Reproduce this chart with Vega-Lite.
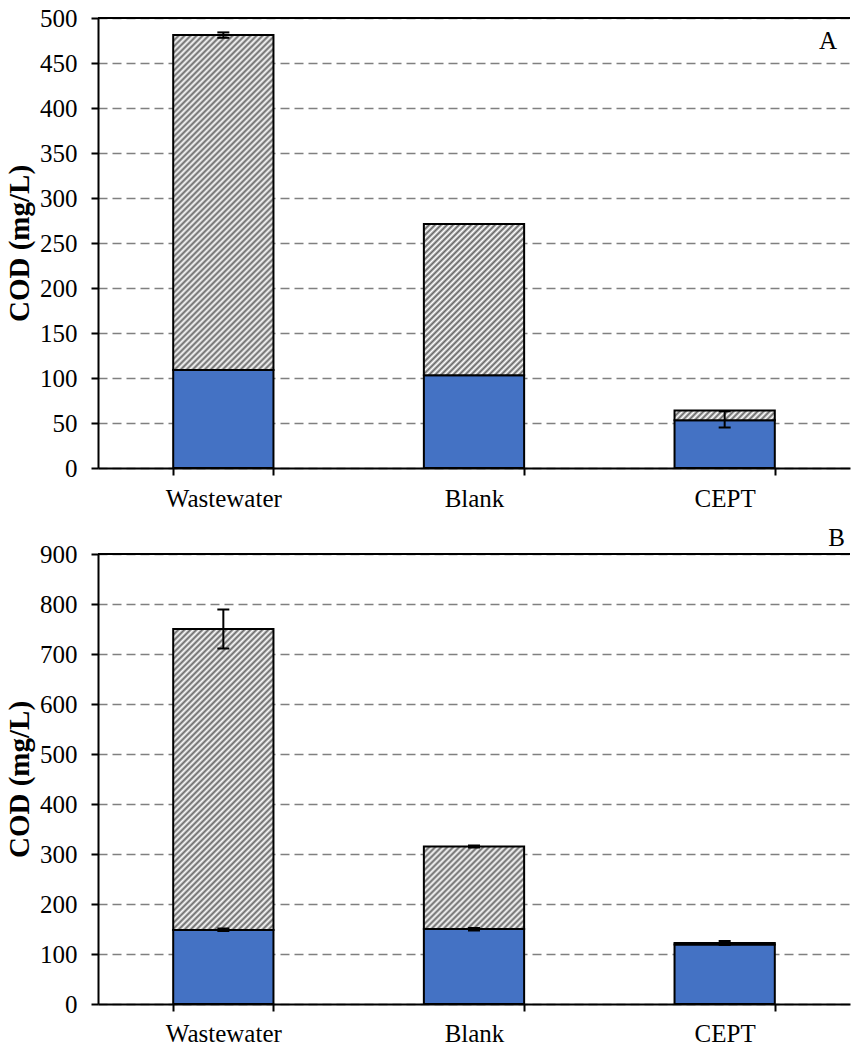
{
  "$schema": "https://vega.github.io/schema/vega-lite/v6.json",
  "padding": {"left": 5, "top": 6, "right": 0, "bottom": 0},
  "spacing": 14,
  "datasets": {
    "bars": [
      {"panel": "A", "category": "Wastewater", "soluble": 109, "total": 481},
      {"panel": "A", "category": "Blank", "soluble": 103, "total": 271},
      {"panel": "A", "category": "CEPT", "soluble": 53, "total": 64},
      {"panel": "B", "category": "Wastewater", "soluble": 148, "total": 750},
      {"panel": "B", "category": "Blank", "soluble": 150, "total": 315},
      {"panel": "B", "category": "CEPT", "soluble": 119, "total": 122}
    ],
    "errors": [
      {"panel": "A", "category": "Wastewater", "lo": 478, "hi": 484},
      {"panel": "A", "category": "CEPT", "lo": 45, "hi": 63},
      {"panel": "B", "category": "Wastewater", "lo": 711, "hi": 789},
      {"panel": "B", "category": "Wastewater", "lo": 146, "hi": 151},
      {"panel": "B", "category": "Blank", "lo": 147, "hi": 152},
      {"panel": "B", "category": "Blank", "lo": 313, "hi": 317},
      {"panel": "B", "category": "CEPT", "lo": 118, "hi": 126}
    ]
  },
  "vconcat": [
    {
      "width": 752,
      "height": 450,
      "layer": [
        {
          "data": {"name": "bars"},
          "transform": [{"filter": "datum.panel == 'A'"}],
          "mark": {"type": "bar", "fill": "#4472c4", "stroke": "#000", "strokeWidth": 2},
          "encoding": {
            "x": {"field": "category", "type": "nominal", "title": null, "sort": ["Wastewater", "Blank", "CEPT"], "scale": {"paddingInner": 0.6, "paddingOuter": 0.3}, "axis": {"labelAngle": 0, "tickBand": "extent", "labelPadding": 11}},
            "y": {"field": "soluble", "type": "quantitative", "title": "COD (mg/L)", "scale": {"domain": [0, 500], "nice": false}, "axis": {"values": [0, 50, 100, 150, 200, 250, 300, 350, 400, 450, 500]}}
          }
        },
        {
          "data": {"name": "bars"},
          "transform": [{"filter": "datum.panel == 'A'"}],
          "mark": {"type": "bar", "stroke": "#000", "strokeWidth": 2},
          "encoding": {
            "x": {"field": "category", "type": "nominal", "title": null, "sort": ["Wastewater", "Blank", "CEPT"]},
            "y": {"field": "soluble", "type": "quantitative", "title": "COD (mg/L)"},
            "y2": {"field": "total"},
            "fill": {
              "condition": [
                {"test": "datum.category == 'Wastewater'", "value": {"gradient": "linear", "x1": 0, "y1": 0, "x2": 0.3941, "y2": 1.3156, "stops": [
                  {"offset":0,"color":"#666"},{"offset":0.00625,"color":"#fff"},{"offset":0.0125,"color":"#666"},{"offset":0.01875,"color":"#fff"},{"offset":0.025,"color":"#666"},{"offset":0.03125,"color":"#fff"},{"offset":0.0375,"color":"#666"},{"offset":0.04375,"color":"#fff"},
                  {"offset":0.05,"color":"#666"},{"offset":0.05625,"color":"#fff"},{"offset":0.0625,"color":"#666"},{"offset":0.06875,"color":"#fff"},{"offset":0.075,"color":"#666"},{"offset":0.08125,"color":"#fff"},{"offset":0.0875,"color":"#666"},{"offset":0.09375,"color":"#fff"},
                  {"offset":0.1,"color":"#666"},{"offset":0.10625,"color":"#fff"},{"offset":0.1125,"color":"#666"},{"offset":0.11875,"color":"#fff"},{"offset":0.125,"color":"#666"},{"offset":0.13125,"color":"#fff"},{"offset":0.1375,"color":"#666"},{"offset":0.14375,"color":"#fff"},
                  {"offset":0.15,"color":"#666"},{"offset":0.15625,"color":"#fff"},{"offset":0.1625,"color":"#666"},{"offset":0.16875,"color":"#fff"},{"offset":0.175,"color":"#666"},{"offset":0.18125,"color":"#fff"},{"offset":0.1875,"color":"#666"},{"offset":0.19375,"color":"#fff"},
                  {"offset":0.2,"color":"#666"},{"offset":0.20625,"color":"#fff"},{"offset":0.2125,"color":"#666"},{"offset":0.21875,"color":"#fff"},{"offset":0.225,"color":"#666"},{"offset":0.23125,"color":"#fff"},{"offset":0.2375,"color":"#666"},{"offset":0.24375,"color":"#fff"},
                  {"offset":0.25,"color":"#666"},{"offset":0.25625,"color":"#fff"},{"offset":0.2625,"color":"#666"},{"offset":0.26875,"color":"#fff"},{"offset":0.275,"color":"#666"},{"offset":0.28125,"color":"#fff"},{"offset":0.2875,"color":"#666"},{"offset":0.29375,"color":"#fff"},
                  {"offset":0.3,"color":"#666"},{"offset":0.30625,"color":"#fff"},{"offset":0.3125,"color":"#666"},{"offset":0.31875,"color":"#fff"},{"offset":0.325,"color":"#666"},{"offset":0.33125,"color":"#fff"},{"offset":0.3375,"color":"#666"},{"offset":0.34375,"color":"#fff"},
                  {"offset":0.35,"color":"#666"},{"offset":0.35625,"color":"#fff"},{"offset":0.3625,"color":"#666"},{"offset":0.36875,"color":"#fff"},{"offset":0.375,"color":"#666"},{"offset":0.38125,"color":"#fff"},{"offset":0.3875,"color":"#666"},{"offset":0.39375,"color":"#fff"},
                  {"offset":0.4,"color":"#666"},{"offset":0.40625,"color":"#fff"},{"offset":0.4125,"color":"#666"},{"offset":0.41875,"color":"#fff"},{"offset":0.425,"color":"#666"},{"offset":0.43125,"color":"#fff"},{"offset":0.4375,"color":"#666"},{"offset":0.44375,"color":"#fff"},
                  {"offset":0.45,"color":"#666"},{"offset":0.45625,"color":"#fff"},{"offset":0.4625,"color":"#666"},{"offset":0.46875,"color":"#fff"},{"offset":0.475,"color":"#666"},{"offset":0.48125,"color":"#fff"},{"offset":0.4875,"color":"#666"},{"offset":0.49375,"color":"#fff"},
                  {"offset":0.5,"color":"#666"},{"offset":0.50625,"color":"#fff"},{"offset":0.5125,"color":"#666"},{"offset":0.51875,"color":"#fff"},{"offset":0.525,"color":"#666"},{"offset":0.53125,"color":"#fff"},{"offset":0.5375,"color":"#666"},{"offset":0.54375,"color":"#fff"},
                  {"offset":0.55,"color":"#666"},{"offset":0.55625,"color":"#fff"},{"offset":0.5625,"color":"#666"},{"offset":0.56875,"color":"#fff"},{"offset":0.575,"color":"#666"},{"offset":0.58125,"color":"#fff"},{"offset":0.5875,"color":"#666"},{"offset":0.59375,"color":"#fff"},
                  {"offset":0.6,"color":"#666"},{"offset":0.60625,"color":"#fff"},{"offset":0.6125,"color":"#666"},{"offset":0.61875,"color":"#fff"},{"offset":0.625,"color":"#666"},{"offset":0.63125,"color":"#fff"},{"offset":0.6375,"color":"#666"},{"offset":0.64375,"color":"#fff"},
                  {"offset":0.65,"color":"#666"},{"offset":0.65625,"color":"#fff"},{"offset":0.6625,"color":"#666"},{"offset":0.66875,"color":"#fff"},{"offset":0.675,"color":"#666"},{"offset":0.68125,"color":"#fff"},{"offset":0.6875,"color":"#666"},{"offset":0.69375,"color":"#fff"},
                  {"offset":0.7,"color":"#666"},{"offset":0.70625,"color":"#fff"},{"offset":0.7125,"color":"#666"},{"offset":0.71875,"color":"#fff"},{"offset":0.725,"color":"#666"},{"offset":0.73125,"color":"#fff"},{"offset":0.7375,"color":"#666"},{"offset":0.74375,"color":"#fff"},
                  {"offset":0.75,"color":"#666"},{"offset":0.75625,"color":"#fff"},{"offset":0.7625,"color":"#666"},{"offset":0.76875,"color":"#fff"},{"offset":0.775,"color":"#666"},{"offset":0.78125,"color":"#fff"},{"offset":0.7875,"color":"#666"},{"offset":0.79375,"color":"#fff"},
                  {"offset":0.8,"color":"#666"},{"offset":0.80625,"color":"#fff"},{"offset":0.8125,"color":"#666"},{"offset":0.81875,"color":"#fff"},{"offset":0.825,"color":"#666"},{"offset":0.83125,"color":"#fff"},{"offset":0.8375,"color":"#666"},{"offset":0.84375,"color":"#fff"},
                  {"offset":0.85,"color":"#666"},{"offset":0.85625,"color":"#fff"},{"offset":0.8625,"color":"#666"},{"offset":0.86875,"color":"#fff"},{"offset":0.875,"color":"#666"},{"offset":0.88125,"color":"#fff"},{"offset":0.8875,"color":"#666"},{"offset":0.89375,"color":"#fff"},
                  {"offset":0.9,"color":"#666"},{"offset":0.90625,"color":"#fff"},{"offset":0.9125,"color":"#666"}
                ]}},
                {"test": "datum.category == 'Blank'", "value": {"gradient": "linear", "x1": 0, "y1": 0, "x2": 0.9137, "y2": 1.3778, "stops": [
                  {"offset":0,"color":"#666"},{"offset":0.01,"color":"#fff"},{"offset":0.02,"color":"#666"},{"offset":0.03,"color":"#fff"},{"offset":0.04,"color":"#666"},{"offset":0.05,"color":"#fff"},{"offset":0.06,"color":"#666"},{"offset":0.07,"color":"#fff"},{"offset":0.08,"color":"#666"},{"offset":0.09,"color":"#fff"},
                  {"offset":0.1,"color":"#666"},{"offset":0.11,"color":"#fff"},{"offset":0.12,"color":"#666"},{"offset":0.13,"color":"#fff"},{"offset":0.14,"color":"#666"},{"offset":0.15,"color":"#fff"},{"offset":0.16,"color":"#666"},{"offset":0.17,"color":"#fff"},{"offset":0.18,"color":"#666"},{"offset":0.19,"color":"#fff"},
                  {"offset":0.2,"color":"#666"},{"offset":0.21,"color":"#fff"},{"offset":0.22,"color":"#666"},{"offset":0.23,"color":"#fff"},{"offset":0.24,"color":"#666"},{"offset":0.25,"color":"#fff"},{"offset":0.26,"color":"#666"},{"offset":0.27,"color":"#fff"},{"offset":0.28,"color":"#666"},{"offset":0.29,"color":"#fff"},
                  {"offset":0.3,"color":"#666"},{"offset":0.31,"color":"#fff"},{"offset":0.32,"color":"#666"},{"offset":0.33,"color":"#fff"},{"offset":0.34,"color":"#666"},{"offset":0.35,"color":"#fff"},{"offset":0.36,"color":"#666"},{"offset":0.37,"color":"#fff"},{"offset":0.38,"color":"#666"},{"offset":0.39,"color":"#fff"},
                  {"offset":0.4,"color":"#666"},{"offset":0.41,"color":"#fff"},{"offset":0.42,"color":"#666"},{"offset":0.43,"color":"#fff"},{"offset":0.44,"color":"#666"},{"offset":0.45,"color":"#fff"},{"offset":0.46,"color":"#666"},{"offset":0.47,"color":"#fff"},{"offset":0.48,"color":"#666"},{"offset":0.49,"color":"#fff"},
                  {"offset":0.5,"color":"#666"},{"offset":0.51,"color":"#fff"},{"offset":0.52,"color":"#666"},{"offset":0.53,"color":"#fff"},{"offset":0.54,"color":"#666"},{"offset":0.55,"color":"#fff"},{"offset":0.56,"color":"#666"},{"offset":0.57,"color":"#fff"},{"offset":0.58,"color":"#666"},{"offset":0.59,"color":"#fff"},
                  {"offset":0.6,"color":"#666"},{"offset":0.61,"color":"#fff"},{"offset":0.62,"color":"#666"},{"offset":0.63,"color":"#fff"},{"offset":0.64,"color":"#666"},{"offset":0.65,"color":"#fff"},{"offset":0.66,"color":"#666"},{"offset":0.67,"color":"#fff"},{"offset":0.68,"color":"#666"},{"offset":0.69,"color":"#fff"},
                  {"offset":0.7,"color":"#666"},{"offset":0.71,"color":"#fff"},{"offset":0.72,"color":"#666"},{"offset":0.73,"color":"#fff"},{"offset":0.74,"color":"#666"},{"offset":0.75,"color":"#fff"},{"offset":0.76,"color":"#666"},{"offset":0.77,"color":"#fff"},{"offset":0.78,"color":"#666"},{"offset":0.79,"color":"#fff"},
                  {"offset":0.8,"color":"#666"},{"offset":0.81,"color":"#fff"},{"offset":0.82,"color":"#666"},{"offset":0.83,"color":"#fff"},{"offset":0.84,"color":"#666"}
                ]}},
                {"test": "datum.category == 'CEPT'", "value": {"gradient": "linear", "x1": 0, "y1": 0, "x2": 1.1845, "y2": 0.117, "stops": [
                  {"offset":0,"color":"#666"},{"offset":0.025,"color":"#fff"},{"offset":0.05,"color":"#666"},{"offset":0.075,"color":"#fff"},
                  {"offset":0.1,"color":"#666"},{"offset":0.125,"color":"#fff"},{"offset":0.15,"color":"#666"},{"offset":0.175,"color":"#fff"},
                  {"offset":0.2,"color":"#666"},{"offset":0.225,"color":"#fff"},{"offset":0.25,"color":"#666"},{"offset":0.275,"color":"#fff"},
                  {"offset":0.3,"color":"#666"},{"offset":0.325,"color":"#fff"},{"offset":0.35,"color":"#666"},{"offset":0.375,"color":"#fff"},
                  {"offset":0.4,"color":"#666"},{"offset":0.425,"color":"#fff"},{"offset":0.45,"color":"#666"},{"offset":0.475,"color":"#fff"},
                  {"offset":0.5,"color":"#666"},{"offset":0.525,"color":"#fff"},{"offset":0.55,"color":"#666"},{"offset":0.575,"color":"#fff"},
                  {"offset":0.6,"color":"#666"},{"offset":0.625,"color":"#fff"},{"offset":0.65,"color":"#666"},{"offset":0.675,"color":"#fff"},
                  {"offset":0.7,"color":"#666"},{"offset":0.725,"color":"#fff"},{"offset":0.75,"color":"#666"},{"offset":0.775,"color":"#fff"},
                  {"offset":0.8,"color":"#666"},{"offset":0.825,"color":"#fff"},{"offset":0.85,"color":"#666"},{"offset":0.875,"color":"#fff"},
                  {"offset":0.9,"color":"#666"},{"offset":0.925,"color":"#fff"},{"offset":0.95,"color":"#666"}
                ]}}
              ],
              "value": "#666"
            }
          }
        },
        {
          "data": {"values": [{}]},
          "mark": {"type": "rule", "color": "#000", "strokeWidth": 2},
          "encoding": {"y": {"datum": 500, "type": "quantitative", "title": "COD (mg/L)"}}
        },
        {
          "data": {"name": "errors"},
          "transform": [{"filter": "datum.panel == 'A'"}],
          "mark": {"type": "rule", "color": "#000", "strokeWidth": 2},
          "encoding": {
            "x": {"field": "category", "type": "nominal", "title": null, "sort": ["Wastewater", "Blank", "CEPT"]},
            "y": {"field": "lo", "type": "quantitative", "title": "COD (mg/L)"},
            "y2": {"field": "hi"}
          }
        },
        {
          "data": {"name": "errors"},
          "transform": [{"filter": "datum.panel == 'A'"}],
          "mark": {"type": "tick", "color": "#000", "size": 12, "thickness": 2, "opacity": 1},
          "encoding": {
            "x": {"field": "category", "type": "nominal", "title": null, "sort": ["Wastewater", "Blank", "CEPT"]},
            "y": {"field": "lo", "type": "quantitative", "title": "COD (mg/L)"}
          }
        },
        {
          "data": {"name": "errors"},
          "transform": [{"filter": "datum.panel == 'A'"}],
          "mark": {"type": "tick", "color": "#000", "size": 12, "thickness": 2, "opacity": 1},
          "encoding": {
            "x": {"field": "category", "type": "nominal", "title": null, "sort": ["Wastewater", "Blank", "CEPT"]},
            "y": {"field": "hi", "type": "quantitative", "title": "COD (mg/L)"}
          }
        },
        {
          "data": {"values": [{"letter": "A"}]},
          "mark": {"type": "text", "align": "right", "baseline": "middle", "dx": -13, "font": "Liberation Serif", "fontSize": 25, "color": "#000"},
          "encoding": {
            "x": {"value": "width"},
            "y": {"datum": 475, "type": "quantitative", "title": "COD (mg/L)"},
            "text": {"field": "letter"}
          }
        }
      ]
    },
    {
      "width": 752,
      "height": 450,
      "layer": [
        {
          "data": {"name": "bars"},
          "transform": [{"filter": "datum.panel == 'B'"}],
          "mark": {"type": "bar", "fill": "#4472c4", "stroke": "#000", "strokeWidth": 2},
          "encoding": {
            "x": {"field": "category", "type": "nominal", "title": null, "sort": ["Wastewater", "Blank", "CEPT"], "scale": {"paddingInner": 0.6, "paddingOuter": 0.3}, "axis": {"labelAngle": 0, "tickBand": "extent", "labelPadding": 10}},
            "y": {"field": "soluble", "type": "quantitative", "title": "COD (mg/L)", "scale": {"domain": [0, 900], "nice": false}, "axis": {"values": [0, 100, 200, 300, 400, 500, 600, 700, 800, 900]}}
          }
        },
        {
          "data": {"name": "bars"},
          "transform": [{"filter": "datum.panel == 'B'"}],
          "mark": {"type": "bar", "stroke": "#000", "strokeWidth": 2},
          "encoding": {
            "x": {"field": "category", "type": "nominal", "title": null, "sort": ["Wastewater", "Blank", "CEPT"]},
            "y": {"field": "soluble", "type": "quantitative", "title": "COD (mg/L)"},
            "y2": {"field": "total"},
            "fill": {
              "condition": [
                {"test": "datum.category == 'Wastewater'", "value": {"gradient": "linear", "x1": 0, "y1": 0, "x2": 0.4783, "y2": 1.4353, "stops": [
                  {"offset":0,"color":"#666"},{"offset":0.00625,"color":"#fff"},{"offset":0.0125,"color":"#666"},{"offset":0.01875,"color":"#fff"},{"offset":0.025,"color":"#666"},{"offset":0.03125,"color":"#fff"},{"offset":0.0375,"color":"#666"},{"offset":0.04375,"color":"#fff"},
                  {"offset":0.05,"color":"#666"},{"offset":0.05625,"color":"#fff"},{"offset":0.0625,"color":"#666"},{"offset":0.06875,"color":"#fff"},{"offset":0.075,"color":"#666"},{"offset":0.08125,"color":"#fff"},{"offset":0.0875,"color":"#666"},{"offset":0.09375,"color":"#fff"},
                  {"offset":0.1,"color":"#666"},{"offset":0.10625,"color":"#fff"},{"offset":0.1125,"color":"#666"},{"offset":0.11875,"color":"#fff"},{"offset":0.125,"color":"#666"},{"offset":0.13125,"color":"#fff"},{"offset":0.1375,"color":"#666"},{"offset":0.14375,"color":"#fff"},
                  {"offset":0.15,"color":"#666"},{"offset":0.15625,"color":"#fff"},{"offset":0.1625,"color":"#666"},{"offset":0.16875,"color":"#fff"},{"offset":0.175,"color":"#666"},{"offset":0.18125,"color":"#fff"},{"offset":0.1875,"color":"#666"},{"offset":0.19375,"color":"#fff"},
                  {"offset":0.2,"color":"#666"},{"offset":0.20625,"color":"#fff"},{"offset":0.2125,"color":"#666"},{"offset":0.21875,"color":"#fff"},{"offset":0.225,"color":"#666"},{"offset":0.23125,"color":"#fff"},{"offset":0.2375,"color":"#666"},{"offset":0.24375,"color":"#fff"},
                  {"offset":0.25,"color":"#666"},{"offset":0.25625,"color":"#fff"},{"offset":0.2625,"color":"#666"},{"offset":0.26875,"color":"#fff"},{"offset":0.275,"color":"#666"},{"offset":0.28125,"color":"#fff"},{"offset":0.2875,"color":"#666"},{"offset":0.29375,"color":"#fff"},
                  {"offset":0.3,"color":"#666"},{"offset":0.30625,"color":"#fff"},{"offset":0.3125,"color":"#666"},{"offset":0.31875,"color":"#fff"},{"offset":0.325,"color":"#666"},{"offset":0.33125,"color":"#fff"},{"offset":0.3375,"color":"#666"},{"offset":0.34375,"color":"#fff"},
                  {"offset":0.35,"color":"#666"},{"offset":0.35625,"color":"#fff"},{"offset":0.3625,"color":"#666"},{"offset":0.36875,"color":"#fff"},{"offset":0.375,"color":"#666"},{"offset":0.38125,"color":"#fff"},{"offset":0.3875,"color":"#666"},{"offset":0.39375,"color":"#fff"},
                  {"offset":0.4,"color":"#666"},{"offset":0.40625,"color":"#fff"},{"offset":0.4125,"color":"#666"},{"offset":0.41875,"color":"#fff"},{"offset":0.425,"color":"#666"},{"offset":0.43125,"color":"#fff"},{"offset":0.4375,"color":"#666"},{"offset":0.44375,"color":"#fff"},
                  {"offset":0.45,"color":"#666"},{"offset":0.45625,"color":"#fff"},{"offset":0.4625,"color":"#666"},{"offset":0.46875,"color":"#fff"},{"offset":0.475,"color":"#666"},{"offset":0.48125,"color":"#fff"},{"offset":0.4875,"color":"#666"},{"offset":0.49375,"color":"#fff"},
                  {"offset":0.5,"color":"#666"},{"offset":0.50625,"color":"#fff"},{"offset":0.5125,"color":"#666"},{"offset":0.51875,"color":"#fff"},{"offset":0.525,"color":"#666"},{"offset":0.53125,"color":"#fff"},{"offset":0.5375,"color":"#666"},{"offset":0.54375,"color":"#fff"},
                  {"offset":0.55,"color":"#666"},{"offset":0.55625,"color":"#fff"},{"offset":0.5625,"color":"#666"},{"offset":0.56875,"color":"#fff"},{"offset":0.575,"color":"#666"},{"offset":0.58125,"color":"#fff"},{"offset":0.5875,"color":"#666"},{"offset":0.59375,"color":"#fff"},
                  {"offset":0.6,"color":"#666"},{"offset":0.60625,"color":"#fff"},{"offset":0.6125,"color":"#666"},{"offset":0.61875,"color":"#fff"},{"offset":0.625,"color":"#666"},{"offset":0.63125,"color":"#fff"},{"offset":0.6375,"color":"#666"},{"offset":0.64375,"color":"#fff"},
                  {"offset":0.65,"color":"#666"},{"offset":0.65625,"color":"#fff"},{"offset":0.6625,"color":"#666"},{"offset":0.66875,"color":"#fff"},{"offset":0.675,"color":"#666"},{"offset":0.68125,"color":"#fff"},{"offset":0.6875,"color":"#666"},{"offset":0.69375,"color":"#fff"},
                  {"offset":0.7,"color":"#666"},{"offset":0.70625,"color":"#fff"},{"offset":0.7125,"color":"#666"},{"offset":0.71875,"color":"#fff"},{"offset":0.725,"color":"#666"},{"offset":0.73125,"color":"#fff"},{"offset":0.7375,"color":"#666"},{"offset":0.74375,"color":"#fff"},
                  {"offset":0.75,"color":"#666"},{"offset":0.75625,"color":"#fff"},{"offset":0.7625,"color":"#666"},{"offset":0.76875,"color":"#fff"},{"offset":0.775,"color":"#666"},{"offset":0.78125,"color":"#fff"},{"offset":0.7875,"color":"#666"},{"offset":0.79375,"color":"#fff"},
                  {"offset":0.8,"color":"#666"},{"offset":0.80625,"color":"#fff"},{"offset":0.8125,"color":"#666"},{"offset":0.81875,"color":"#fff"},{"offset":0.825,"color":"#666"},{"offset":0.83125,"color":"#fff"},{"offset":0.8375,"color":"#666"},{"offset":0.84375,"color":"#fff"},
                  {"offset":0.85,"color":"#666"}
                ]}},
                {"test": "datum.category == 'Blank'", "value": {"gradient": "linear", "x1": 0, "y1": 0, "x2": 1.4268, "y2": 1.174, "stops": [
                  {"offset":0,"color":"#666"},{"offset":0.0125,"color":"#fff"},{"offset":0.025,"color":"#666"},{"offset":0.0375,"color":"#fff"},{"offset":0.05,"color":"#666"},{"offset":0.0625,"color":"#fff"},{"offset":0.075,"color":"#666"},{"offset":0.0875,"color":"#fff"},
                  {"offset":0.1,"color":"#666"},{"offset":0.1125,"color":"#fff"},{"offset":0.125,"color":"#666"},{"offset":0.1375,"color":"#fff"},{"offset":0.15,"color":"#666"},{"offset":0.1625,"color":"#fff"},{"offset":0.175,"color":"#666"},{"offset":0.1875,"color":"#fff"},
                  {"offset":0.2,"color":"#666"},{"offset":0.2125,"color":"#fff"},{"offset":0.225,"color":"#666"},{"offset":0.2375,"color":"#fff"},{"offset":0.25,"color":"#666"},{"offset":0.2625,"color":"#fff"},{"offset":0.275,"color":"#666"},{"offset":0.2875,"color":"#fff"},
                  {"offset":0.3,"color":"#666"},{"offset":0.3125,"color":"#fff"},{"offset":0.325,"color":"#666"},{"offset":0.3375,"color":"#fff"},{"offset":0.35,"color":"#666"},{"offset":0.3625,"color":"#fff"},{"offset":0.375,"color":"#666"},{"offset":0.3875,"color":"#fff"},
                  {"offset":0.4,"color":"#666"},{"offset":0.4125,"color":"#fff"},{"offset":0.425,"color":"#666"},{"offset":0.4375,"color":"#fff"},{"offset":0.45,"color":"#666"},{"offset":0.4625,"color":"#fff"},{"offset":0.475,"color":"#666"},{"offset":0.4875,"color":"#fff"},
                  {"offset":0.5,"color":"#666"},{"offset":0.5125,"color":"#fff"},{"offset":0.525,"color":"#666"},{"offset":0.5375,"color":"#fff"},{"offset":0.55,"color":"#666"},{"offset":0.5625,"color":"#fff"},{"offset":0.575,"color":"#666"},{"offset":0.5875,"color":"#fff"},
                  {"offset":0.6,"color":"#666"},{"offset":0.6125,"color":"#fff"},{"offset":0.625,"color":"#666"},{"offset":0.6375,"color":"#fff"},{"offset":0.65,"color":"#666"},{"offset":0.6625,"color":"#fff"},{"offset":0.675,"color":"#666"},{"offset":0.6875,"color":"#fff"},
                  {"offset":0.7,"color":"#666"},{"offset":0.7125,"color":"#fff"},{"offset":0.725,"color":"#666"},{"offset":0.7375,"color":"#fff"},{"offset":0.75,"color":"#666"},{"offset":0.7625,"color":"#fff"},{"offset":0.775,"color":"#666"}
                ]}}
              ],
              "value": "#666"
            }
          }
        },
        {
          "data": {"values": [{}]},
          "mark": {"type": "rule", "color": "#000", "strokeWidth": 2},
          "encoding": {"y": {"datum": 900, "type": "quantitative", "title": "COD (mg/L)"}}
        },
        {
          "data": {"name": "errors"},
          "transform": [{"filter": "datum.panel == 'B'"}],
          "mark": {"type": "rule", "color": "#000", "strokeWidth": 2},
          "encoding": {
            "x": {"field": "category", "type": "nominal", "title": null, "sort": ["Wastewater", "Blank", "CEPT"]},
            "y": {"field": "lo", "type": "quantitative", "title": "COD (mg/L)"},
            "y2": {"field": "hi"}
          }
        },
        {
          "data": {"name": "errors"},
          "transform": [{"filter": "datum.panel == 'B'"}],
          "mark": {"type": "tick", "color": "#000", "size": 12, "thickness": 2, "opacity": 1},
          "encoding": {
            "x": {"field": "category", "type": "nominal", "title": null, "sort": ["Wastewater", "Blank", "CEPT"]},
            "y": {"field": "lo", "type": "quantitative", "title": "COD (mg/L)"}
          }
        },
        {
          "data": {"name": "errors"},
          "transform": [{"filter": "datum.panel == 'B'"}],
          "mark": {"type": "tick", "color": "#000", "size": 12, "thickness": 2, "opacity": 1},
          "encoding": {
            "x": {"field": "category", "type": "nominal", "title": null, "sort": ["Wastewater", "Blank", "CEPT"]},
            "y": {"field": "hi", "type": "quantitative", "title": "COD (mg/L)"}
          }
        },
        {
          "data": {"values": [{"letter": "B"}]},
          "mark": {"type": "text", "align": "right", "baseline": "middle", "dx": -5, "font": "Liberation Serif", "fontSize": 25, "color": "#000"},
          "encoding": {
            "x": {"value": "width"},
            "y": {"datum": 932, "type": "quantitative", "title": "COD (mg/L)"},
            "text": {"field": "letter"}
          }
        }
      ]
    }
  ],
  "config": {
    "view": {"stroke": null},
    "font": "Liberation Serif",
    "axis": {
      "labelFont": "Liberation Serif",
      "labelFontSize": 25,
      "labelColor": "#000",
      "titleFont": "Liberation Serif",
      "titleFontSize": 29,
      "titleFontWeight": "bold",
      "titleColor": "#000",
      "domainColor": "#000",
      "domainWidth": 2,
      "tickColor": "#000",
      "tickWidth": 2,
      "tickSize": 7
    },
    "axisY": {"gridColor": "#808080", "gridDash": [9, 5], "gridWidth": 1.5, "labelPadding": 14, "titlePadding": 5},
    "axisX": {"grid": false}
  }
}
